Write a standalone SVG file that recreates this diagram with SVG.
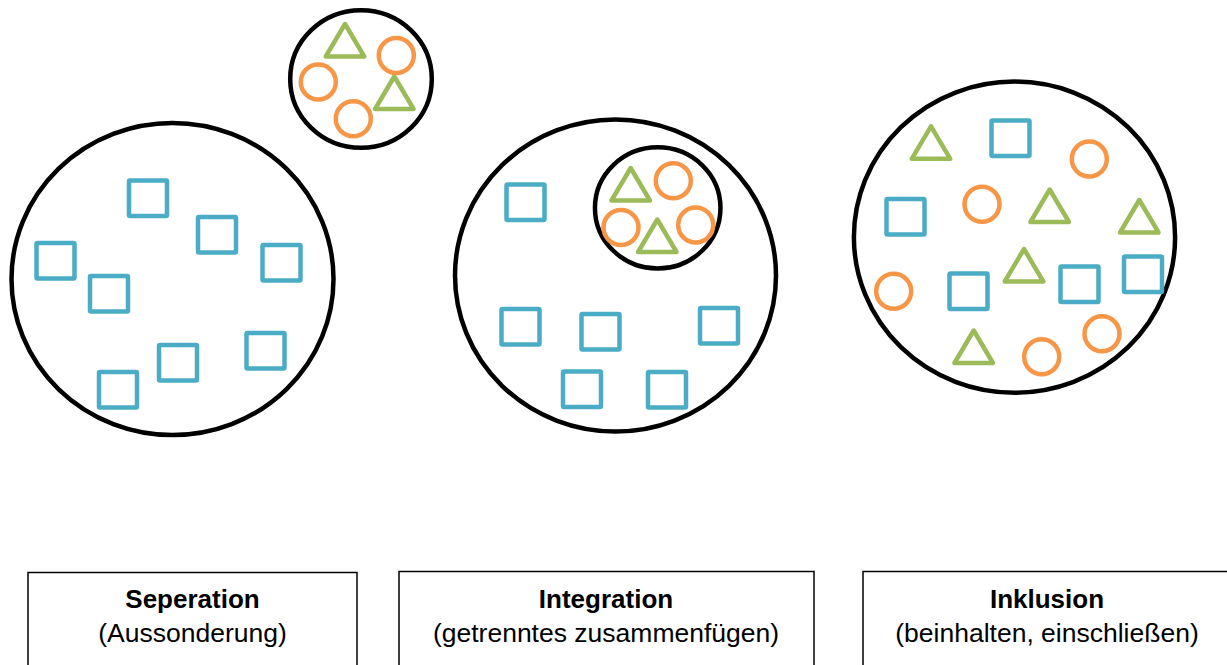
<svg xmlns="http://www.w3.org/2000/svg" xmlns:xlink="http://www.w3.org/1999/xlink" width="1227" height="665" viewBox="0 0 1227 665">
  <style>
    .ring { fill: none; stroke: #000; stroke-width: 4.5; }
    .sq { fill: none; stroke: #4BACC6; stroke-width: 4.5; stroke-linejoin: round; }
    .ci { fill: none; stroke: #F79646; stroke-width: 4.5; }
    .tri { fill: none; stroke: #9BBB59; stroke-width: 4.5; stroke-linejoin: round; }
    .box { fill: #fff; stroke: #000; stroke-width: 1.5; }
    .title { font-family: "Liberation Sans", Arial, sans-serif; font-size: 26px; font-weight: bold; fill: #000; text-anchor: middle; }
    .sub { font-family: "Liberation Sans", Arial, sans-serif; font-size: 26.5px; fill: #000; text-anchor: middle; }
  </style>
  <defs>
    <!-- square: 38 x 35.5 -->
    <rect id="square" x="0" y="0" width="38" height="35.5" rx="1"/>
    <!-- triangle anchored at its apex -->
    <path id="triangle" d="M0,0 L19.25,32.5 L-19.25,32.5 Z"/>
  </defs>

  <rect width="1227" height="665" fill="#fff"/>

  <!-- Separation: one big group of squares, the others kept apart -->
  <g id="separation">
    <ellipse class="ring" cx="172.5" cy="279" rx="161" ry="156"/>
    <use xlink:href="#square" class="sq" x="129" y="180.5"/>
    <use xlink:href="#square" class="sq" x="198" y="217"/>
    <use xlink:href="#square" class="sq" x="262.5" y="245"/>
    <use xlink:href="#square" class="sq" x="36.5" y="243"/>
    <use xlink:href="#square" class="sq" x="90" y="276"/>
    <use xlink:href="#square" class="sq" x="159" y="345"/>
    <use xlink:href="#square" class="sq" x="246.5" y="333"/>
    <use xlink:href="#square" class="sq" x="99" y="372"/>
  </g>

  <g id="separation-minority">
    <ellipse class="ring" cx="361" cy="79" rx="70.8" ry="68.8"/>
    <use xlink:href="#triangle" class="tri" x="345" y="24"/>
    <use xlink:href="#triangle" class="tri" x="394.3" y="76.5"/>
    <circle class="ci" cx="396.3" cy="55.5" r="17.5"/>
    <circle class="ci" cx="318.3" cy="82" r="17.5"/>
    <circle class="ci" cx="353.3" cy="118.7" r="17.5"/>
  </g>

  <!-- Integration: the small group sits inside the big one, still fenced off -->
  <g id="integration">
    <ellipse class="ring" cx="615.5" cy="275.5" rx="160.5" ry="156"/>
    <ellipse class="ring" cx="657.7" cy="207.9" rx="62.75" ry="60.6"/>
    <use xlink:href="#square" class="sq" x="506.5" y="184.5"/>
    <use xlink:href="#square" class="sq" x="501.5" y="309"/>
    <use xlink:href="#square" class="sq" x="581.5" y="314"/>
    <use xlink:href="#square" class="sq" x="700" y="308"/>
    <use xlink:href="#square" class="sq" x="563" y="371.5"/>
    <use xlink:href="#square" class="sq" x="648" y="372"/>
    <use xlink:href="#triangle" class="tri" x="630.7" y="168"/>
    <use xlink:href="#triangle" class="tri" x="657.3" y="219.5"/>
    <circle class="ci" cx="673.3" cy="180.7" r="17.5"/>
    <circle class="ci" cx="621" cy="227.5" r="17.5"/>
    <circle class="ci" cx="695.7" cy="225" r="17.5"/>
  </g>

  <!-- Inclusion: everything mixed in one circle -->
  <g id="inklusion">
    <ellipse class="ring" cx="1014.5" cy="237.2" rx="160.6" ry="155.6"/>
    <use xlink:href="#square" class="sq" x="991.5" y="120.5"/>
    <use xlink:href="#square" class="sq" x="886.5" y="199"/>
    <use xlink:href="#square" class="sq" x="949.5" y="273.5"/>
    <use xlink:href="#square" class="sq" x="1060.5" y="266.5"/>
    <use xlink:href="#square" class="sq" x="1124" y="256.5"/>
    <use xlink:href="#triangle" class="tri" x="931" y="126.3"/>
    <use xlink:href="#triangle" class="tri" x="1049.7" y="189.5"/>
    <use xlink:href="#triangle" class="tri" x="1139.3" y="200"/>
    <use xlink:href="#triangle" class="tri" x="1024" y="249"/>
    <use xlink:href="#triangle" class="tri" x="973.7" y="330.5"/>
    <circle class="ci" cx="1089.3" cy="159" r="17.5"/>
    <circle class="ci" cx="982" cy="204.3" r="17.5"/>
    <circle class="ci" cx="893.7" cy="291.3" r="17.5"/>
    <circle class="ci" cx="1041.7" cy="356.7" r="17.5"/>
    <circle class="ci" cx="1102" cy="333.7" r="17.5"/>
  </g>

  <!-- caption boxes -->
  <g id="label-separation">
    <rect class="box" x="28" y="572.5" width="329" height="110"/>
    <text class="title" x="192.5" y="607.5">Seperation</text>
    <text class="sub" x="192.5" y="642">(Aussonderung)</text>
  </g>
  <g id="label-integration">
    <rect class="box" x="399" y="571.5" width="415" height="110"/>
    <text class="title" x="606" y="607.5">Integration</text>
    <text class="sub" x="606" y="642">(getrenntes zusammenfügen)</text>
  </g>
  <g id="label-inklusion">
    <rect class="box" x="863" y="571.5" width="380" height="110"/>
    <text class="title" x="1047" y="607.5">Inklusion</text>
    <text class="sub" x="1047" y="642">(beinhalten, einschließen)</text>
  </g>
</svg>
